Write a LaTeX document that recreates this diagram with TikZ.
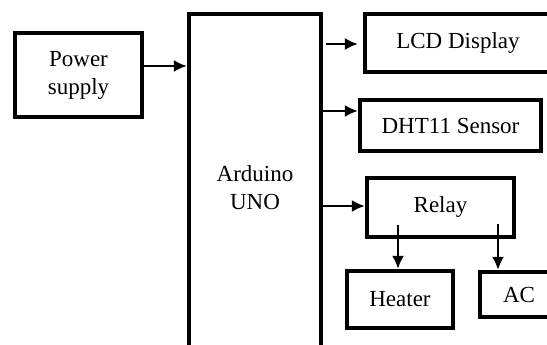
\documentclass[tikz,border=0pt]{standalone}
\usepackage{fontspec}
\setmainfont{Liberation Serif}
\usetikzlibrary{arrows.meta}

\begin{document}
\begin{tikzpicture}[x=1pt,y=-1pt,
    blk/.style={draw,line width=4.5pt,align=center,inner sep=0pt,
      font=\fontsize{23}{28}\selectfont},
    arr/.style={line width=1.8pt,-{Latex[length=13pt,width=12pt]}}]
  \useasboundingbox (0,0) rectangle (547,345);
  \clip (0,0) rectangle (547,345);
  \node[blk,minimum width=127pt,minimum height=84pt] (power) at (78.5,75) {Power\\supply};
  \node[blk,minimum width=132pt,minimum height=348pt] (ard) at (255,188) {Arduino\\UNO};
  \node[blk,minimum width=186pt,minimum height=58pt] (lcd) at (458,43) {LCD Display};
  \node[blk,minimum width=181pt,minimum height=51pt] (dht) at (450.5,125.5) {DHT11 Sensor};
  \node[blk,minimum width=147pt,minimum height=59pt] (relay) at (440.5,207.5) {Relay};
  \node[blk,minimum width=106pt,minimum height=57pt] (heater) at (400,299.5) {Heater};
  \node[blk,minimum width=78pt,minimum height=45pt] (ac) at (519,294.5) {AC};
  \draw[arr] (power.east |- 0,66) -- (ard.west |- 0,66);
  \draw[arr] ([xshift=3pt]ard.east |- 0,44) -- ([xshift=-5pt]lcd.west |- 0,44);
  \draw[arr] (ard.east |- 0,111) -- (dht.west |- 0,111);
  \draw[arr] (ard.east |- 0,206) -- (relay.west |- 0,206);
  \draw[arr] (relay.south -| 398,0) ++(0,-14) -- (heater.north -| 398,0);
  \draw[arr] (relay.south -| 498,0) ++(0,-15) -- (ac.north -| 498,0);
\end{tikzpicture}
\end{document}
